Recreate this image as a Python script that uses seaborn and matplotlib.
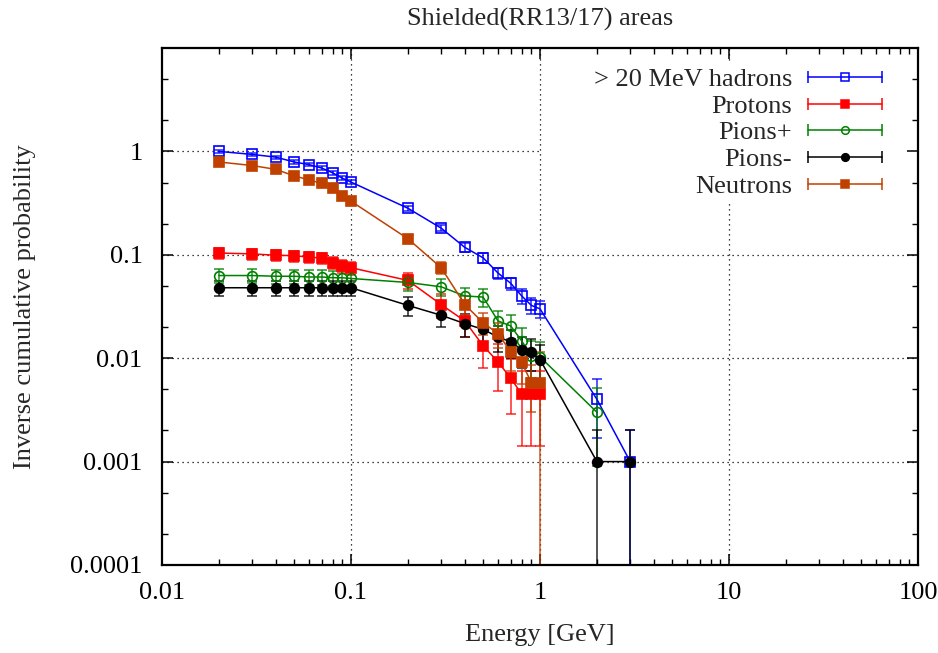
import numpy as np
import pandas as pd
import matplotlib
matplotlib.use("Agg")
import matplotlib.pyplot as plt
import matplotlib.ticker as mticker
from matplotlib.lines import Line2D
from matplotlib.legend_handler import HandlerLine2D
import seaborn as sns

# energies (GeV)
energy = [0.02, 0.03, 0.04, 0.05, 0.06, 0.07, 0.08, 0.09, 0.1,
          0.2, 0.3, 0.4, 0.5, 0.6, 0.7, 0.8, 0.9, 1, 2, 3]

hadrons = [1.0, 0.935, 0.88, 0.79, 0.745, 0.69, 0.62, 0.55, 0.505,
           0.282, 0.181, 0.118, 0.0935, 0.0665, 0.053, 0.040, 0.0324, 0.030, 0.004, 0.001]
hadrons_err = [0.032, 0.031, 0.030, 0.028, 0.027, 0.026, 0.025, 0.023, 0.022,
               0.017, 0.013, 0.011, 0.0097, 0.0082, 0.0073, 0.0063, 0.0057, 0.0055, 0.0023, 0.001]

protons = [0.104, 0.102, 0.099, 0.098, 0.095, 0.093, 0.084, 0.078, 0.075,
           0.0565, 0.033, 0.0229, 0.0132, 0.0092, 0.0064, 0.0045, 0.0045, 0.0045]
protons_err = [0.012, 0.012, 0.012, 0.012, 0.012, 0.012, 0.011, 0.011, 0.011,
               0.010, 0.0085, 0.007, 0.0052, 0.0044, 0.0035, 0.0031, 0.0031, 0.0031]

pions_p = [0.063, 0.063, 0.062, 0.062, 0.061, 0.061, 0.060, 0.060, 0.059,
           0.054, 0.049, 0.040, 0.039, 0.0229, 0.0205, 0.0147, 0.0105, 0.0103, 0.003]
pions_p_err = [0.0098, 0.0098, 0.0098, 0.0098, 0.0097, 0.0097, 0.0096, 0.0096, 0.0095,
               0.0091, 0.0087, 0.0078, 0.0077, 0.0059, 0.0056, 0.0048, 0.0040, 0.0040, 0.0021]

pions_m = [0.048, 0.048, 0.048, 0.048, 0.048, 0.048, 0.048, 0.048, 0.048,
           0.0324, 0.026, 0.0216, 0.019, 0.016, 0.0144, 0.0121, 0.0115, 0.0097, 0.001, 0.001]
pions_m_err = [0.008, 0.008, 0.008, 0.008, 0.008, 0.008, 0.008, 0.008, 0.008,
               0.0066, 0.0059, 0.0054, 0.005, 0.0046, 0.0044, 0.004, 0.0039, 0.0036, 0.001, 0.001]

neutrons = [0.79, 0.73, 0.67, 0.58, 0.53, 0.49, 0.44, 0.37, 0.33,
            0.143, 0.075, 0.033, 0.022, 0.0173, 0.0115, 0.0091, 0.0058, 0.0058]
neutrons_err = [0.032, 0.031, 0.030, 0.028, 0.027, 0.026, 0.024, 0.022, 0.021,
                0.014, 0.010, 0.0066, 0.0054, 0.0048, 0.0039, 0.0035, 0.0028, 0.0058]

x_ticks = [0.01, 0.1, 1, 10, 100]
x_tick_labels = ["0.01", "0.1", "1", "10", "100"]
y_ticks = [0.0001, 0.001, 0.01, 0.1, 1]
y_tick_labels = ["0.0001", "0.001", "0.01", "0.1", "1"]

series = [
    ("> 20 MeV hadrons", hadrons, hadrons_err, "#0000ff", "s", False),
    ("Protons", protons, protons_err, "#ff0000", "s", True),
    ("Pions+", pions_p, pions_p_err, "#008000", "o", False),
    ("Pions-", pions_m, pions_m_err, "#000000", "o", True),
    ("Neutrons", neutrons, neutrons_err, "#c04000", "s", True),
]

sns.set_style("ticks")
plt.rcParams["font.family"] = ["Liberation Serif", "DejaVu Serif"]
FS = 19

fig = plt.figure(figsize=(9.38, 6.53), dpi=100)
ax = fig.add_axes([0.1727, 0.1348, 0.806, 0.7917])
ax.set_xscale("log")
ax.set_yscale("log")

handles = []
hmap = {}
for name, vals, errs, col, mk, filled in series:
    df = pd.DataFrame({"E": energy[:len(vals)], "p": vals, "err": errs})
    ax.errorbar(df["E"], df["p"], yerr=df["err"], fmt="none", ecolor=col,
                elinewidth=1.1, capsize=3.4, capthick=1.1, alpha=0.85, zorder=2)
    sns.lineplot(data=df, x="E", y="p", ax=ax, color=col, lw=1.1,
                 marker=mk, markersize=7.5 if mk == "s" else 7,
                 markerfacecolor=col if filled else "none",
                 markeredgecolor=col, markeredgewidth=1.2, zorder=3)
    # gnuplot-like key sample: horizontal bar with end caps + point
    cap = Line2D([], [], color=col, lw=1.1, marker="|", markersize=8, markeredgewidth=1.1)
    dot = Line2D([], [], ls="none", marker=mk, markersize=5.5,
                 markerfacecolor=col if filled else "none",
                 markeredgecolor=col, markeredgewidth=1.1)
    hmap[cap] = HandlerLine2D(numpoints=2, marker_pad=0)
    hmap[dot] = HandlerLine2D(numpoints=1)
    handles.append((cap, dot))

ax.set_xlim(0.01, 100)
ax.set_ylim(0.0001, 10)

# grid only on inner major ticks (y=1 line stops at the key)
for gx in [0.1, 1, 10]:
    ax.axvline(gx, color="black", lw=0.9, ls=(0, (1, 3)), zorder=1)
for gy in [0.001, 0.01, 0.1]:
    ax.axhline(gy, color="black", lw=0.9, ls=(0, (1, 3)), zorder=1)
ax.axhline(1, xmax=0.5, color="black", lw=0.9, ls=(0, (1, 3)), zorder=1)

ax.xaxis.set_major_locator(mticker.FixedLocator(x_ticks))
ax.xaxis.set_major_formatter(mticker.FixedFormatter(x_tick_labels))
ax.xaxis.set_minor_locator(mticker.LogLocator(base=10, subs=np.arange(2, 10)))
ax.xaxis.set_minor_formatter(mticker.NullFormatter())
ax.yaxis.set_major_locator(mticker.FixedLocator(y_ticks + [10]))
ax.yaxis.set_major_formatter(mticker.FixedFormatter(y_tick_labels + [""]))
ax.yaxis.set_minor_locator(mticker.LogLocator(base=10, subs=[2, 5]))
ax.yaxis.set_minor_formatter(mticker.NullFormatter())

ax.tick_params(which="both", direction="in", top=True, right=True, colors="black")
ax.tick_params(which="major", length=8, width=1.1, labelsize=FS)
ax.tick_params(which="minor", length=4, width=1.0)
ax.tick_params(axis="x", which="major", pad=12)
ax.tick_params(axis="y", which="major", pad=14)
for sp in ax.spines.values():
    sp.set_linewidth(1.6)
    sp.set_color("black")

ax.set_xlabel("Energy [GeV]", fontsize=FS, labelpad=15)
ax.set_ylabel("Inverse cumulative probability", fontsize=FS)
ax.yaxis.set_label_coords(-0.167, 0.5)
ax.set_title("Shielded(RR13/17) areas", fontsize=FS, pad=16)

leg = ax.legend(handles, [s[0] for s in series], handler_map=hmap,
                loc="upper right", bbox_to_anchor=(0.959, 0.972), borderaxespad=0,
                markerfirst=False, fontsize=FS, frameon=True, fancybox=False,
                edgecolor="none", facecolor="white", framealpha=1,
                handlelength=2.8, handletextpad=0.6, labelspacing=0.12,
                borderpad=0.2)
leg.set_zorder(5)

fig.savefig("out.png", dpi=100)
